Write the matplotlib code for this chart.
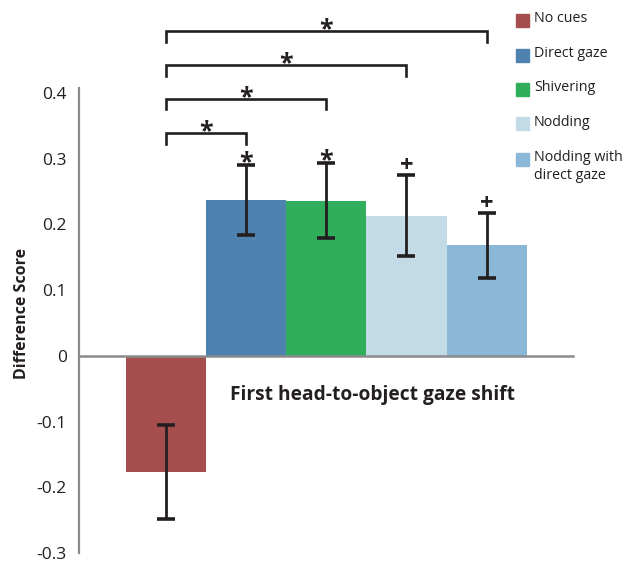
import matplotlib
matplotlib.use("Agg")
import matplotlib.pyplot as plt
import numpy as np

plt.rcParams['font.family'] = ['Open Sans', 'DejaVu Sans']

categories = ["No cues", "Direct gaze", "Shivering", "Nodding", "Nodding with\ndirect gaze"]
means = [-0.177, 0.237, 0.236, 0.2135, 0.168]
errors = [0.072, 0.053, 0.057, 0.0615, 0.0495]
colors = ["#A64E4D", "#4E83B0", "#31AE5C", "#C3DAE7", "#8CB8D7"]
bar_marks = ["", "*", "*", "+", "+"]
# significance brackets: (from, to, y-level)
brackets = [(0, 1, 0.339), (0, 2, 0.391), (0, 3, 0.4425), (0, 4, 0.494)]
yticks = [-0.3, -0.2, -0.1, 0, 0.1, 0.2, 0.3, 0.4]
ytick_labels = ["-0.3", "-0.2", "-0.1", "0", "0.1", "0.2", "0.3", "0.4"]

W, H = 627, 562
fig = plt.figure(figsize=(W / 100, H / 100), dpi=100)
ax_left, ax_right = 78.5, 573
ax_top, ax_bot = 93, 553
ax = fig.add_axes([ax_left / W, 1 - ax_bot / H, (ax_right - ax_left) / W, (ax_bot - ax_top) / H])

x = np.arange(len(categories))
ax.bar(x, means, width=1.0, color=colors, zorder=2)
ax.errorbar(x, means, yerr=errors, fmt='none', ecolor='#231F20', elinewidth=2.0,
            capsize=6.5, capthick=2.6, zorder=3)

ax.set_xlim(-1.087, 5.075)
ax.set_ylim(-0.3, 0.4)

for s in ['top', 'right']:
    ax.spines[s].set_visible(False)
ax.spines['left'].set_color('#8A8B8D')
ax.spines['left'].set_linewidth(1.6)
ax.spines['left'].set_bounds(-0.3, 0.408)
ax.spines['bottom'].set_position(('data', 0))
ax.spines['bottom'].set_color('#8A8B8D')
ax.spines['bottom'].set_linewidth(1.8)
ax.set_xticks([])
ax.set_yticks(yticks)
ax.set_yticklabels(ytick_labels)
ax.tick_params(axis='y', length=0, pad=8.5, labelsize=12.5, labelcolor='#231F20')
ax.set_ylabel("Difference Score", fontsize=11.5, fontweight='bold', color='#231F20')
ax.yaxis.set_label_coords(-0.098, (ax_bot - 313) / (ax_bot - ax_top))

# marks above error bars
for i, m in enumerate(bar_marks):
    if m:
        top = means[i] + errors[i]
        if m == '*':
            ax.text(x[i], top + 0.004, m, ha='center', va='center', fontsize=18,
                    fontweight='bold', color='#231F20', clip_on=False)
        else:
            ax.text(x[i], top + 0.014, m, ha='center', va='center', fontsize=17,
                    fontweight='bold', color='#231F20', clip_on=False)

# significance brackets
tick = 0.016
for a, b, yb in brackets:
    ax.plot([x[a], x[a], x[b], x[b]], [yb - tick, yb, yb, yb - tick], color='#231F20',
            lw=1.9, clip_on=False, solid_joinstyle='miter', zorder=4)
    ax.text((x[a] + x[b]) / 2, yb + 0.002, '*', ha='center', va='center', fontsize=18,
            fontweight='bold', color='#231F20', clip_on=False)

fig.text(230 / W, 1 - 395 / H, "First head-to-object gaze shift",
         fontsize=13.8, fontweight='bold', color='#231F20', ha='left', va='center')

# legend (manual layout)
leg_rows = [20, 55, 89, 124, 159]
for cat, col, yr in zip(categories, colors, leg_rows):
    fig.patches.append(plt.Rectangle((516 / W, 1 - (yr + 6.5) / H), 13 / W, 13 / H,
                                     transform=fig.transFigure, color=col))
    fig.text(534 / W, 1 - (yr - 9) / H, cat, fontsize=10.3, color='#231F20',
             ha='left', va='top', linespacing=1.25)

fig.savefig("out.png", dpi=100)
